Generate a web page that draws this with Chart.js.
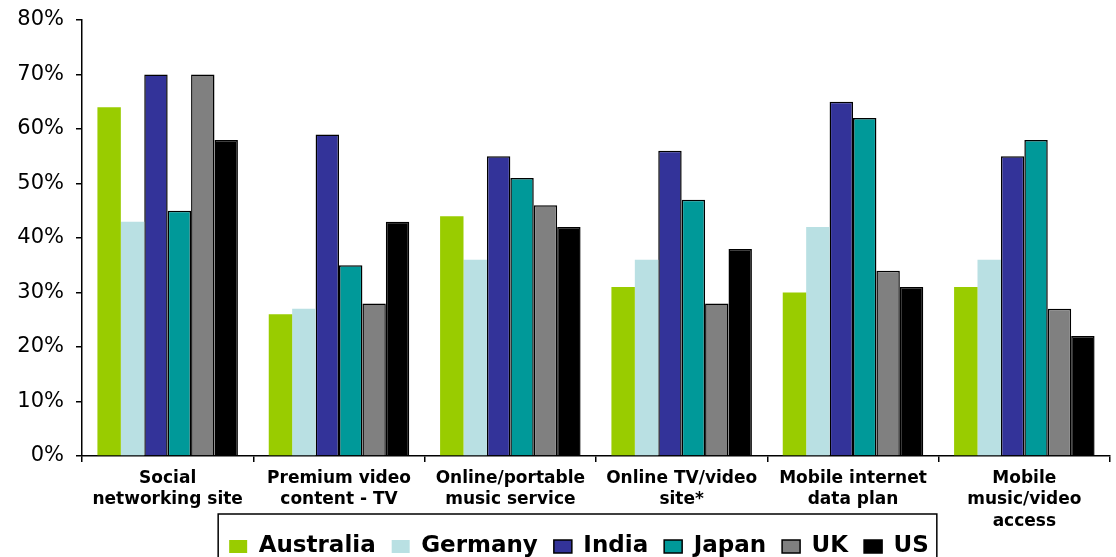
<!DOCTYPE html>
<html>
<head>
<meta charset="utf-8">
<script src="https://cdn.jsdelivr.net/npm/chart.js@4"></script>
<style>
  html, body { margin: 0; padding: 0; background: #fff; }
  #wrap { width: 1116px; height: 557px; }
</style>
</head>
<body>
<div id="wrap"><canvas id="chart" width="1116" height="557"></canvas></div>
<script>
// catégories (axe x) et séries par pays
const categories = [
    ["Social", "networking site"],
    ["Premium video", "content - TV"],
    ["Online/portable", "music service"],
    ["Online TV/video", "site*"],
    ["Mobile internet", "data plan"],
    ["Mobile", "music/video", "access"]
];
const australia = [64, 26, 44, 31, 30, 31];
const germany   = [43, 27, 36, 36, 42, 36];
const india     = [70, 59, 55, 56, 65, 55];
const japan     = [45, 35, 51, 47, 62, 58];
const uk        = [70, 28, 46, 28, 34, 27];
const us        = [58, 43, 42, 38, 31, 22];
const yTicks = [0, 10, 20, 30, 40, 50, 60, 70, 80];

const font = "'DejaVu Sans', Arial, sans-serif";

// décalage de la légende + cadre autour
const LEGEND_DX = 24, LEGEND_DY = -11;
const legendBox = {
    id: "legendBox",
    afterLayout(chart) {
        const lg = chart.legend;
        lg.left += LEGEND_DX; lg.right += LEGEND_DX;
        lg.top += LEGEND_DY; lg.bottom += LEGEND_DY;
        (lg.legendHitBoxes || []).forEach(b => { b.left += LEGEND_DX; b.top += LEGEND_DY; });
    },
    afterDraw(chart) {
        const boxes = chart.legend.legendHitBoxes;
        if (!boxes || !boxes.length) return;
        const first = boxes[0], last = boxes[boxes.length - 1];
        const ctx = chart.ctx;
        ctx.save();
        ctx.strokeStyle = "#000";
        ctx.lineWidth = 1.5;
        ctx.strokeRect(first.left - 11, first.top - 10, last.left + last.width - first.left + 19, 60);
        ctx.restore();
    }
};

function ds(label, data, color, bordered) {
    return {
        label: label,
        data: data,
        backgroundColor: color,
        borderColor: bordered ? "#000" : color,
        borderWidth: bordered ? 1.5 : 0,
        borderSkipped: "bottom"
    };
}

new Chart(document.getElementById("chart"), {
    type: "bar",
    data: {
        labels: categories,
        datasets: [
            ds("Australia", australia, "#99CC00", false),
            ds("Germany", germany, "#B9E0E3", false),
            ds("India", india, "#333399", true),
            ds("Japan", japan, "#009999", true),
            ds("UK", uk, "#808080", true),
            ds("US", us, "#000000", true)
        ]
    },
    options: {
        responsive: false,
        animation: false,
        layout: { padding: { top: 20, right: 6, left: 0, bottom: -22 } },
        datasets: { bar: { categoryPercentage: 0.82, barPercentage: 1.0 } },
        plugins: {
            tooltip: { enabled: false },
            legend: {
                position: "bottom",
                labels: {
                    color: "#000",
                    font: { family: font, size: 23, weight: "bold" },
                    boxWidth: 18,
                    boxHeight: 13,
                    padding: 16
                }
            }
        },
        scales: {
            x: {
                grid: { drawOnChartArea: false, drawTicks: true, tickLength: 6, color: "#000", lineWidth: 1.5, offset: true },
                border: { color: "#000", width: 1.5 },
                ticks: {
                    color: "#000",
                    font: { family: font, size: 17, weight: "bold", lineHeight: 1.25 },
                    maxRotation: 0,
                    autoSkip: false,
                    padding: 6
                },
                afterFit(scale) { scale.height = 74; }
            },
            y: {
                min: 0,
                max: 80,
                afterBuildTicks(scale) { scale.ticks = yTicks.map(v => ({ value: v })); },
                grid: { drawOnChartArea: false, drawTicks: true, tickLength: 6, color: "#000", lineWidth: 1.5 },
                border: { color: "#000", width: 1.5 },
                ticks: {
                    color: "#000",
                    font: { family: font, size: 21 },
                    padding: 12,
                    callback: v => v + "%"
                },
                afterFit(scale) { scale.width = 82; scale.paddingTop = 0; scale.paddingBottom = 0; }
            }
        }
    },
    plugins: [legendBox]
});
</script>
</body>
</html>
